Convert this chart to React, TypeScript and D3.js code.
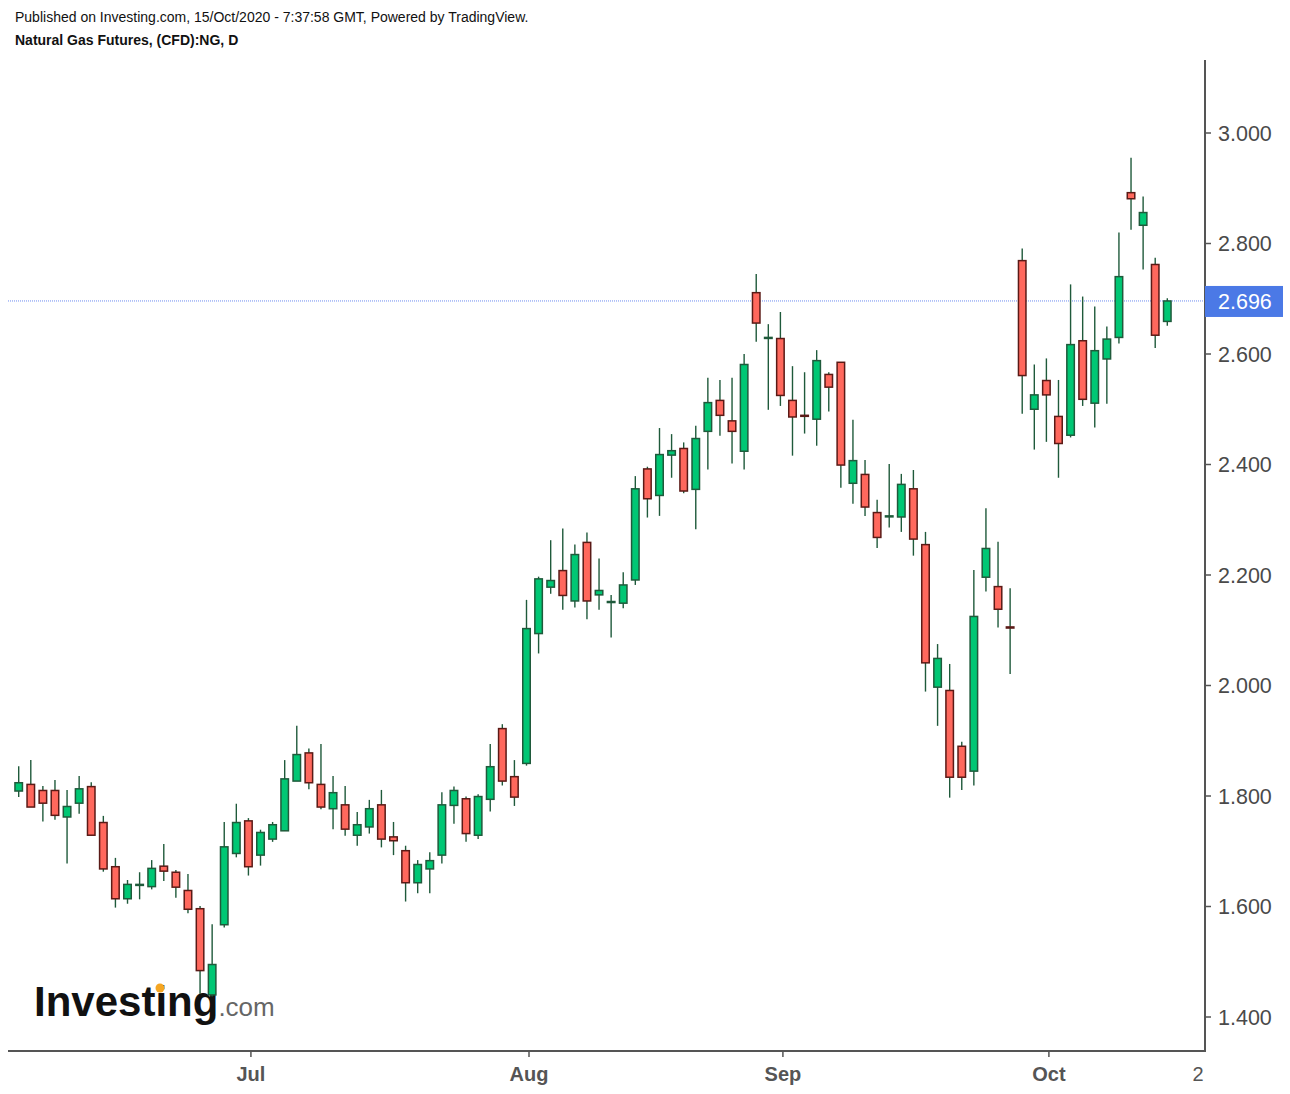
import { useEffect, useRef } from "react"
import * as d3 from "d3"

// Natural Gas Futures daily candles, 4 Jun - 15 Oct 2020
const dates = [
  "2020-06-04", "2020-06-05", "2020-06-08", "2020-06-09", "2020-06-10", "2020-06-11", "2020-06-12",
  "2020-06-15", "2020-06-16", "2020-06-17", "2020-06-18", "2020-06-19", "2020-06-22", "2020-06-23",
  "2020-06-24", "2020-06-25", "2020-06-26", "2020-06-29", "2020-06-30",
  "2020-07-01", "2020-07-02", "2020-07-03", "2020-07-06", "2020-07-07", "2020-07-08", "2020-07-09",
  "2020-07-10", "2020-07-13", "2020-07-14", "2020-07-15", "2020-07-16", "2020-07-17", "2020-07-20",
  "2020-07-21", "2020-07-22", "2020-07-23", "2020-07-24", "2020-07-27", "2020-07-28", "2020-07-29",
  "2020-07-30", "2020-07-31",
  "2020-08-03", "2020-08-04", "2020-08-05", "2020-08-06", "2020-08-07", "2020-08-10", "2020-08-11",
  "2020-08-12", "2020-08-13", "2020-08-14", "2020-08-17", "2020-08-18", "2020-08-19", "2020-08-20",
  "2020-08-21", "2020-08-24", "2020-08-25", "2020-08-26", "2020-08-27", "2020-08-28", "2020-08-31",
  "2020-09-01", "2020-09-02", "2020-09-03", "2020-09-04", "2020-09-07", "2020-09-08", "2020-09-09",
  "2020-09-10", "2020-09-11", "2020-09-14", "2020-09-15", "2020-09-16", "2020-09-17", "2020-09-18",
  "2020-09-21", "2020-09-22", "2020-09-23", "2020-09-24", "2020-09-25", "2020-09-28", "2020-09-29",
  "2020-09-30",
  "2020-10-01", "2020-10-02", "2020-10-05", "2020-10-06", "2020-10-07", "2020-10-08", "2020-10-09",
  "2020-10-12", "2020-10-13", "2020-10-14", "2020-10-15",
]

const opens = [
  1.809, 1.821, 1.81, 1.81, 1.762, 1.787, 1.817, 1.752, 1.672, 1.614, 1.639, 1.636, 1.673, 1.662,
  1.629, 1.596, 1.44, 1.567, 1.696, 1.755, 1.693, 1.722, 1.737, 1.827, 1.878, 1.821, 1.777, 1.784,
  1.729, 1.744, 1.784, 1.726, 1.701, 1.643, 1.668, 1.693, 1.783, 1.795, 1.729, 1.794, 1.922, 1.835,
  1.859, 2.094, 2.178, 2.208, 2.153, 2.259, 2.164, 2.151, 2.149, 2.191, 2.392, 2.344, 2.417, 2.429,
  2.355, 2.46, 2.516, 2.479, 2.424, 2.711, 2.629, 2.628, 2.516, 2.489, 2.482, 2.563, 2.585, 2.366,
  2.382, 2.313, 2.306, 2.305, 2.356, 2.255, 1.997, 1.991, 1.89, 1.845, 2.196, 2.179, 2.106, 2.769,
  2.5, 2.552, 2.487, 2.453, 2.624, 2.511, 2.591, 2.63, 2.892, 2.833, 2.762, 2.659,
]

const highs = [
  1.854, 1.865, 1.818, 1.829, 1.811, 1.836, 1.825, 1.764, 1.688, 1.648, 1.662, 1.684, 1.713, 1.666,
  1.659, 1.601, 1.568, 1.753, 1.786, 1.76, 1.739, 1.753, 1.865, 1.927, 1.886, 1.894, 1.836, 1.818,
  1.771, 1.793, 1.811, 1.753, 1.71, 1.684, 1.698, 1.807, 1.817, 1.799, 1.803, 1.894, 1.93, 1.865,
  2.155, 2.197, 2.263, 2.284, 2.255, 2.277, 2.23, 2.164, 2.205, 2.379, 2.396, 2.466, 2.455, 2.44,
  2.47, 2.557, 2.553, 2.557, 2.6, 2.745, 2.654, 2.676, 2.578, 2.567, 2.607, 2.567, 2.585, 2.481,
  2.408, 2.336, 2.401, 2.383, 2.39, 2.278, 2.075, 2.039, 1.898, 2.209, 2.321, 2.26, 2.176, 2.791,
  2.581, 2.592, 2.553, 2.726, 2.704, 2.686, 2.65, 2.82, 2.955, 2.885, 2.774, 2.701,
]

const lows = [
  1.798, 1.78, 1.754, 1.757, 1.678, 1.768, 1.729, 1.663, 1.598, 1.605, 1.613, 1.631, 1.646, 1.616,
  1.588, 1.442, 1.437, 1.562, 1.689, 1.656, 1.674, 1.717, 1.737, 1.827, 1.812, 1.776, 1.74, 1.728,
  1.71, 1.732, 1.707, 1.693, 1.609, 1.624, 1.624, 1.678, 1.75, 1.717, 1.722, 1.772, 1.819, 1.782,
  1.855, 2.058, 2.166, 2.137, 2.141, 2.12, 2.137, 2.087, 2.14, 2.182, 2.304, 2.307, 2.376, 2.348,
  2.283, 2.391, 2.452, 2.402, 2.391, 2.622, 2.499, 2.506, 2.416, 2.456, 2.434, 2.496, 2.358, 2.329,
  2.307, 2.249, 2.286, 2.278, 2.235, 1.989, 1.927, 1.797, 1.811, 1.819, 2.17, 2.105, 2.021, 2.492,
  2.427, 2.441, 2.376, 2.449, 2.506, 2.467, 2.51, 2.619, 2.825, 2.753, 2.611, 2.651,
]

const closes = [
  1.824, 1.78, 1.787, 1.765, 1.781, 1.813, 1.729, 1.668, 1.614, 1.64, 1.64, 1.669, 1.664, 1.635,
  1.595, 1.484, 1.495, 1.708, 1.752, 1.672, 1.734, 1.748, 1.831, 1.875, 1.824, 1.78, 1.806, 1.74,
  1.748, 1.777, 1.722, 1.719, 1.643, 1.676, 1.683, 1.784, 1.81, 1.732, 1.799, 1.853, 1.827, 1.798,
  2.103, 2.193, 2.19, 2.163, 2.237, 2.153, 2.172, 2.152, 2.182, 2.356, 2.338, 2.418, 2.425, 2.352,
  2.447, 2.512, 2.489, 2.46, 2.581, 2.656, 2.63, 2.525, 2.486, 2.488, 2.588, 2.54, 2.399, 2.407,
  2.323, 2.268, 2.307, 2.364, 2.265, 2.041, 2.049, 1.834, 1.834, 2.125, 2.248, 2.138, 2.104, 2.561,
  2.526, 2.526, 2.438, 2.617, 2.518, 2.606, 2.627, 2.74, 2.881, 2.856, 2.634, 2.696,
]

const yTicks = [1.4, 1.6, 1.8, 2.0, 2.2, 2.4, 2.6, 2.8, 3.0]
const monthTicks = [
  { label: "Jul", date: "2020-07-01" },
  { label: "Aug", date: "2020-08-03" },
  { label: "Sep", date: "2020-09-01" },
  { label: "Oct", date: "2020-10-01" },
]
const lastPrice = 2.696

export default function App() {
  const svgRef = useRef<SVGSVGElement>(null)

  useEffect(() => {
    if (!svgRef.current) return
    const svg = d3.select(svgRef.current)
    svg.selectAll("*").remove()

    const width = 1290
    const height = 1094
    const font = "'Liberation Sans', Arial, sans-serif"
    const axisRight = 1205
    const axisBottom = 1051
    const axisColor = "#555555"

    svg.attr("width", width).attr("height", height)
    svg.append("rect").attr("width", width).attr("height", height).attr("fill", "#ffffff")

    const x = d3.scaleLinear().domain([0, dates.length - 1]).range([18.7, 1167.3])
    const y = d3.scaleLinear().domain([1.4, 3.0]).range([1017, 133])

    // header
    svg.append("text")
      .attr("x", 15).attr("y", 22)
      .style("font-family", font).style("font-size", "14px").style("fill", "#111")
      .text("Published on Investing.com, 15/Oct/2020 - 7:37:58 GMT, Powered by TradingView.")
    svg.append("text")
      .attr("x", 15).attr("y", 45)
      .style("font-family", font).style("font-size", "14px").style("font-weight", "bold").style("fill", "#111")
      .text("Natural Gas Futures, (CFD):NG, D")

    // logo
    const logoText = svg.append("text")
      .attr("x", 34).attr("y", 1016)
      .style("font-family", font)
    logoText.append("tspan")
      .style("font-size", "42px").style("font-weight", "bold").style("fill", "#111")
      .text("Investing")
    logoText.append("tspan")
      .style("font-size", "26px").style("fill", "#666")
      .text(".com")
    svg.append("circle").attr("cx", 160).attr("cy", 988).attr("r", 4.5).attr("fill", "#f5a623")

    // current price line
    svg.append("line")
      .attr("x1", 8).attr("x2", axisRight)
      .attr("y1", y(lastPrice)).attr("y2", y(lastPrice))
      .attr("stroke", "#6d8cf0").attr("stroke-width", 1).attr("stroke-dasharray", "1 1")

    // candles
    const data = dates.map((d, i) => ({ i, date: d, o: opens[i], h: highs[i], l: lows[i], c: closes[i] }))
    const candles = svg.append("g").selectAll("g").data(data).enter().append("g")

    candles.append("line")
      .attr("x1", (d) => x(d.i)).attr("x2", (d) => x(d.i))
      .attr("y1", (d) => y(d.h)).attr("y2", (d) => y(d.l))
      .attr("stroke", "#1f5a3b").attr("stroke-width", 1.4)

    const bodyW = 7.5
    candles.append("rect")
      .attr("x", (d) => x(d.i) - bodyW / 2)
      .attr("width", bodyW)
      .attr("y", (d) => y(Math.max(d.o, d.c)))
      .attr("height", (d) => Math.max(1, Math.abs(y(d.o) - y(d.c))))
      .attr("fill", (d) => (d.c >= d.o ? "#00c774" : "#ff685d"))
      .attr("stroke", (d) => (d.c >= d.o ? "#1f5a3b" : "#5a1a16"))
      .attr("stroke-width", 1.5)

    // axes
    svg.append("line")
      .attr("x1", 8).attr("x2", axisRight + 1)
      .attr("y1", axisBottom).attr("y2", axisBottom)
      .attr("stroke", axisColor).attr("stroke-width", 2)
    svg.append("line")
      .attr("x1", axisRight).attr("x2", axisRight)
      .attr("y1", 60).attr("y2", axisBottom + 1)
      .attr("stroke", axisColor).attr("stroke-width", 2)

    const yt = svg.append("g").selectAll("g").data(yTicks).enter().append("g")
    yt.append("line")
      .attr("x1", axisRight).attr("x2", axisRight + 6)
      .attr("y1", (d) => y(d)).attr("y2", (d) => y(d))
      .attr("stroke", axisColor).attr("stroke-width", 1.5)
    yt.append("text")
      .attr("x", 1218).attr("y", (d) => y(d) + 7.5)
      .style("font-family", font).style("font-size", "21.5px").style("fill", "#4a4a4a")
      .text((d) => d3.format(".3f")(d))

    const xt = svg.append("g").selectAll("g").data(monthTicks).enter().append("g")
    const tickX = (d: { date: string }) => x(dates.indexOf(d.date)) + 2.5
    xt.append("line")
      .attr("x1", tickX).attr("x2", tickX)
      .attr("y1", axisBottom).attr("y2", axisBottom + 6)
      .attr("stroke", axisColor).attr("stroke-width", 1.5)
    xt.append("text")
      .attr("x", tickX).attr("y", 1081)
      .attr("text-anchor", "middle")
      .style("font-family", font).style("font-size", "20px").style("font-weight", "bold").style("fill", "#555")
      .text((d) => d.label)
    svg.append("text")
      .attr("x", x(97.55)).attr("y", 1081)
      .attr("text-anchor", "middle")
      .style("font-family", font).style("font-size", "20px").style("fill", "#555")
      .text("2")

    // last price badge
    svg.append("rect")
      .attr("x", axisRight).attr("y", y(lastPrice) - 15)
      .attr("width", 78).attr("height", 31)
      .attr("fill", "#4b79e6")
    svg.append("text")
      .attr("x", 1218).attr("y", y(lastPrice) + 8)
      .style("font-family", font).style("font-size", "21.5px").style("fill", "#ffffff")
      .text(d3.format(".3f")(lastPrice))
  }, [])

  return (
    <div style={{ position: "absolute", left: 0, top: 0 }}>
      <svg ref={svgRef} style={{ display: "block" }}></svg>
    </div>
  )
}
